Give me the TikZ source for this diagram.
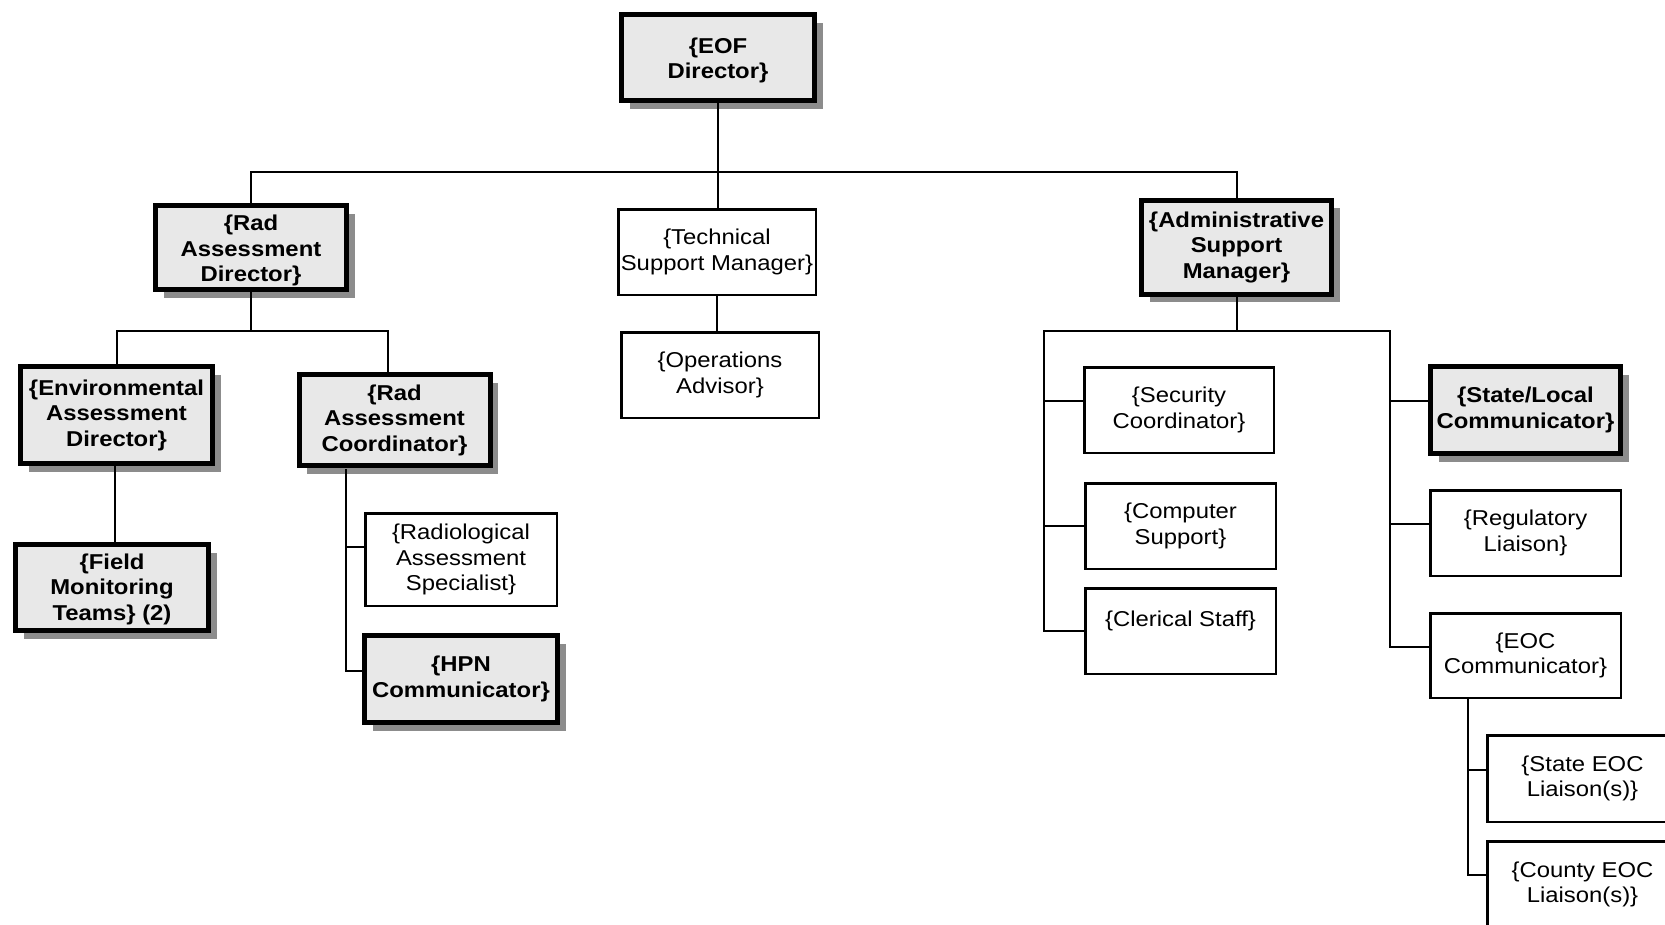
\documentclass[tikz,border=0pt]{standalone}
\usepackage{fontspec}
\setmainfont{Liberation Sans}[FakeStretch=1.11]
\usetikzlibrary{shadows}
\definecolor{boxfill}{RGB}{232,232,232}
\definecolor{shadowgray}{RGB}{140,140,140}
\newcommand{\boxfont}{\fontsize{21.5}{25.5}\selectfont}
\newcommand{\dn}[1]{\rule{0pt}{\dimexpr\fontcharht\font`\{+#1\relax}}
\tikzset{
  base/.style={rectangle, align=center, inner sep=0pt, outer sep=0pt, font=\boxfont},
  boldbox/.style={base, draw=black, line width=5pt, fill=boxfill, font=\boxfont\bfseries,
    drop shadow={shadow xshift=8pt, shadow yshift=-8pt, fill=shadowgray, opacity=1}},
  thinbox/.style={base, draw=black, line width=2.5pt, fill=white},
  conn/.style={line width=2pt, draw=black},
  bsz/.style 2 args={minimum width=#1pt-5pt, minimum height=#2pt-5pt},
  tsz/.style 2 args={minimum width=#1pt-2.5pt, minimum height=#2pt-2.5pt},
}
\begin{document}
\begin{tikzpicture}[x=1pt, y=-1pt]
\useasboundingbox (0,0) rectangle (1665,924);
\clip (0,0) rectangle (1665,924);

% nodes
\node[boldbox, bsz={198}{91}] (eof) at (718,57.5) {\dn{7pt}\{EOF\\Director\}};
\node[boldbox, bsz={196}{89}] (raddir) at (251,247.5) {\dn{7pt}\{Rad\\Assessment\\Director\}};
\node[thinbox, tsz={200}{88}] (tech) at (717,252) {\{Technical\\Support Manager\}};
\node[boldbox, bsz={195}{99}] (admin) at (1236.5,247) {\{Administrative\\Support\\Manager\}};
\node[thinbox, tsz={200}{88}] (ops) at (720,375) {\{Operations\\Advisor\}};

\node[boldbox, bsz={197}{102}] (env) at (116.5,415) {\{Environmental\\Assessment\\Director\}};
\node[boldbox, bsz={196}{96}] (radc) at (394.5,420) {\{Rad\\Assessment\\Coordinator\}};
\node[boldbox, bsz={198}{91}] (field) at (112,587.5) {\dn{4pt}\{Field\\Monitoring\\Teams\} (2)};
\node[thinbox, tsz={194}{95}] (radspec) at (461,559.5) {\{Radiological\\Assessment\\Specialist\}};
\node[boldbox, bsz={198}{92}] (hpn) at (461,679) {\{HPN\\Communicator\}};

\node[thinbox, tsz={192}{88}] (sec) at (1179,410) {\{Security\\Coordinator\}};
\node[thinbox, tsz={193}{88}] (comp) at (1180.5,526) {\{Computer\\Support\}};
\node[thinbox, tsz={193}{88}] (cler) at (1180.5,631) {\{Clerical Staff\}\\~};
\node[boldbox, bsz={195}{92}] (stloc) at (1525.5,410) {\{State/Local\\Communicator\}};
\node[thinbox, tsz={193}{88}] (reg) at (1525.5,533) {\{Regulatory\\Liaison\}};
\node[thinbox, tsz={193}{87}] (eocc) at (1525.5,655.5) {\{EOC\\Communicator\}};
\node[thinbox, tsz={193}{89}] (steoc) at (1582.5,778.5) {\{State EOC\\Liaison(s)\}};
\node[thinbox, tsz={193}{89}] (cteoc) at (1582.5,884.5) {\{County EOC\\Liaison(s)\}};

% helper coordinates
\coordinate (bus) at (718,172);
\coordinate (radbus) at (251,331);
\coordinate (rcin) at (388,372);
\coordinate (rcv) at (346,469);
\coordinate (adbusL) at (1044,331);
\coordinate (adbusR) at (1390,331);
\coordinate (eocv) at (1468,699);

% connectors
\draw[conn] (eof.south) -- (eof.south |- tech.north);
\draw[conn] (raddir.north) -- (raddir.north |- bus) -| (admin.north);
\draw[conn] (tech.south) -- (tech.south |- ops.north);

\draw[conn] (raddir.south) -- (radbus);
\draw[conn] (env.north) |- (radbus) -| (rcin);
\draw[conn] (env.south -| 115,0) -- (field.north -| 115,0);
\draw[conn] (rcv) |- ([yshift=12.5pt]radspec.west);
\draw[conn] (rcv) |- ([yshift=8pt]hpn.west);

\draw[conn] (admin.south) -- (admin.south |- adbusL);
\draw[conn] (cler.west) -| (adbusL) -- (adbusR) |- ([yshift=8.5pt]eocc.west);
\draw[conn] ([yshift=9pt]sec.west) -- ([yshift=9pt]sec.west -| adbusL);
\draw[conn] (comp.west) -- (comp.west -| adbusL);
\draw[conn] ([yshift=9pt]stloc.west) -- ([yshift=9pt]stloc.west -| adbusR);
\draw[conn] ([yshift=9pt]reg.west) -- ([yshift=9pt]reg.west -| adbusR);

\draw[conn] (eocv) |- ([yshift=9.5pt]cteoc.west);
\draw[conn] (eocv |- steoc.west) ++(0,-8.5) -- ([yshift=8.5pt]steoc.west);
\end{tikzpicture}
\end{document}
